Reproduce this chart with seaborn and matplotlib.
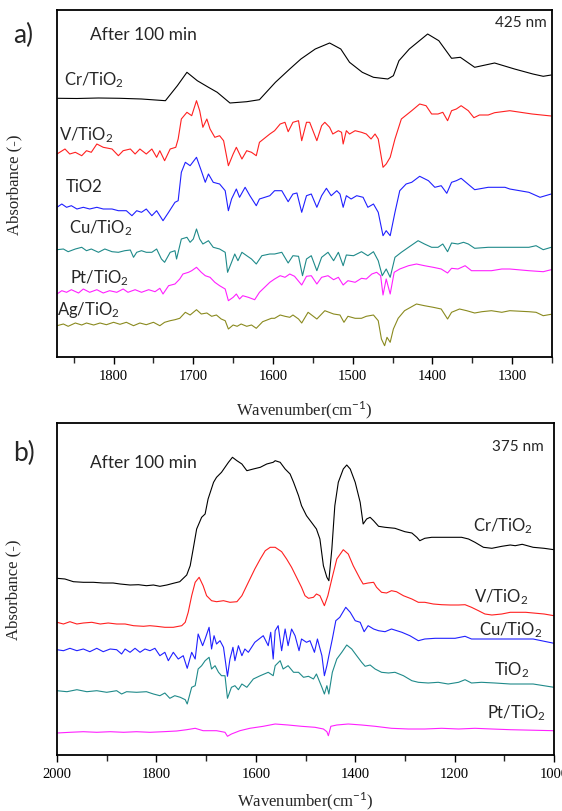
import matplotlib
matplotlib.use("Agg")
import matplotlib.pyplot as plt
import seaborn as sns
import pandas as pd
from matplotlib.ticker import MultipleLocator

# ---- panel a) 425 nm : (wavenumber, absorbance a.u.) ----
cr_a = [(1870, 258.7), (1846, 258.5), (1819, 259), (1792, 258.7), (1765, 258), (1735, 256.3), (1720, 271.3),
        (1708, 284.7), (1695, 276.3), (1681, 269.7), (1670, 264.7), (1654, 254), (1633, 255.3), (1617, 257.3),
        (1597, 274.7), (1579, 288), (1565, 298), (1547, 308), (1529, 314), (1515, 308), (1504, 294.7),
        (1488, 284.7), (1474, 279.7), (1456, 278), (1449, 281.3), (1442, 296.3), (1429, 308), (1406, 323),
        (1392, 316.3), (1376, 298.7), (1365, 299.7), (1347, 289.7), (1322, 294), (1297, 288), (1274, 283),
        (1261, 280.7), (1251, 282)]
v_a = [(1871, 203), (1861, 208), (1855, 203), (1848, 204.7), (1840, 201.3), (1834, 206.3), (1828, 204.7),
       (1821, 213), (1813, 209.7), (1802, 208), (1794, 201.3), (1788, 206.3), (1779, 208), (1773, 203),
       (1767, 208), (1759, 203), (1752, 208), (1746, 199.7), (1742, 206.3), (1736, 196.3), (1729, 208),
       (1722, 209.7), (1719, 218), (1715, 238), (1708, 244.7), (1702, 241.3), (1696, 256.3), (1692, 246.3),
       (1688, 229.7), (1683, 238), (1679, 228), (1673, 219.7), (1667, 221.3), (1662, 216.3), (1656, 191.3),
       (1650, 203), (1646, 209.7), (1639, 198), (1633, 206.3), (1627, 204.7), (1621, 201.3), (1617, 214.7),
       (1604, 223), (1598, 226.3), (1591, 233), (1585, 234.7), (1581, 225.3), (1575, 234.7), (1568, 236.3),
       (1564, 216.3), (1558, 234.7), (1554, 234.7), (1545, 216.3), (1539, 231.3), (1535, 234.7), (1529, 229.7),
       (1525, 223), (1518, 226.3), (1514, 224.7), (1512, 213), (1508, 226.3), (1504, 223), (1497, 226.3),
       (1489, 224.7), (1483, 223), (1477, 218), (1472, 223), (1468, 218), (1462, 189.7), (1458, 193),
       (1453, 199.7), (1447, 218), (1439, 238), (1426, 246.3), (1416, 253), (1408, 251.3), (1401, 243),
       (1393, 243), (1387, 244.7), (1381, 236.3), (1376, 246.3), (1370, 248), (1364, 251.3), (1355, 246.3),
       (1348, 239.3), (1341, 242), (1330, 242), (1322, 244.3), (1303, 246.3), (1275, 243), (1251, 241)]
tio2_a = [(1871, 149.7), (1865, 153), (1859, 149.7), (1853, 151.3), (1846, 148), (1838, 149.7), (1830, 148),
          (1821, 149.7), (1813, 148), (1802, 148), (1794, 146.3), (1784, 146.3), (1777, 141.3), (1771, 146.3),
          (1765, 144.7), (1759, 148), (1752, 141.3), (1746, 146.3), (1738, 136.3), (1731, 144.7), (1723, 154.7),
          (1719, 156.3), (1715, 184.7), (1710, 194.7), (1704, 191.3), (1696, 199.7), (1690, 186.3), (1685, 174.7),
          (1681, 183), (1675, 174.7), (1667, 173), (1660, 166.3), (1656, 146.3), (1652, 158), (1646, 168),
          (1642, 159.7), (1635, 169.7), (1629, 161.3), (1621, 151.3), (1617, 158), (1604, 161.3), (1598, 166.3),
          (1589, 166.3), (1581, 155.3), (1575, 163), (1570, 164), (1564, 144.7), (1558, 161.3), (1552, 163),
          (1545, 149.7), (1539, 161.3), (1533, 168.7), (1527, 161.3), (1520, 166.3), (1516, 163), (1512, 149.7),
          (1508, 161.3), (1502, 158), (1495, 161.3), (1487, 159.7), (1481, 149.7), (1474, 153), (1468, 144.7),
          (1462, 121.3), (1458, 126.3), (1453, 121.3), (1447, 144.7), (1441, 166.3), (1433, 173), (1426, 174.7),
          (1416, 180.7), (1405, 176.3), (1397, 169.7), (1389, 171.3), (1382, 163.7), (1376, 174.7), (1370, 176.3),
          (1364, 178.7), (1357, 174), (1347, 167.3), (1330, 169.7), (1309, 169.7), (1303, 168), (1279, 164.7),
          (1265, 159.7), (1251, 163)]
cu_a = [(1871, 107.3), (1863, 108), (1857, 105.3), (1848, 108), (1840, 109.7), (1834, 106.3), (1828, 108),
        (1819, 104.7), (1811, 108), (1802, 105.3), (1794, 104.7), (1786, 106.3), (1779, 107), (1775, 99.7),
        (1771, 104.7), (1765, 106.3), (1759, 104.7), (1752, 104.7), (1746, 108), (1740, 98), (1736, 94.7),
        (1729, 104.7), (1723, 106.3), (1721, 98), (1715, 118), (1708, 119.7), (1704, 114.7), (1700, 118),
        (1696, 128), (1692, 118), (1688, 113), (1681, 116.3), (1675, 109.7), (1667, 108), (1660, 104.7),
        (1657, 84.7), (1652, 94.7), (1648, 103), (1644, 96.3), (1639, 104.7), (1633, 101.3), (1627, 98),
        (1621, 93), (1614, 101.3), (1604, 103), (1598, 103), (1589, 104.7), (1581, 94), (1575, 101.3),
        (1568, 100.7), (1563, 81.3), (1558, 98), (1552, 101.3), (1545, 86.3), (1539, 99.7), (1531, 104.7),
        (1524, 96.3), (1518, 104.7), (1512, 91.3), (1508, 102), (1499, 101.3), (1489, 105.3), (1481, 101.3),
        (1474, 105.3), (1468, 96.3), (1463, 81.3), (1458, 88), (1453, 79.7), (1447, 99.7), (1439, 104.7),
        (1430, 109.7), (1418, 116.3), (1410, 113), (1401, 109.7), (1393, 109.7), (1387, 113), (1381, 105.3),
        (1376, 114), (1368, 113), (1361, 114.7), (1355, 113), (1347, 108.7), (1330, 109.7), (1303, 109.7),
        (1279, 109.7), (1270, 111.3), (1261, 107.3), (1251, 109.7)]
pt_a = [(1871, 63), (1865, 66.3), (1859, 64.7), (1853, 67.3), (1844, 64), (1838, 68), (1830, 64.7), (1821, 67.3),
        (1813, 64), (1805, 66.3), (1796, 64.7), (1788, 68), (1782, 64.7), (1773, 67.3), (1765, 64.7),
        (1756, 67.3), (1748, 65.3), (1742, 68.7), (1738, 63), (1731, 71.3), (1723, 73), (1717, 78), (1713, 83),
        (1706, 84.7), (1702, 86.3), (1696, 89.7), (1690, 84.7), (1685, 81.3), (1679, 79.7), (1673, 74.7),
        (1667, 71.3), (1660, 68), (1656, 56.3), (1650, 59.7), (1646, 63), (1642, 58), (1638, 61.3),
        (1631, 59.7), (1623, 57.3), (1617, 64.7), (1604, 74.7), (1598, 78), (1591, 81.3), (1585, 79.7),
        (1579, 83), (1573, 80.7), (1564, 72), (1558, 80.7), (1552, 81.3), (1545, 73), (1539, 79.7),
        (1531, 81.3), (1524, 77.3), (1518, 79.7), (1512, 72), (1506, 76.3), (1497, 74.7), (1489, 78.7),
        (1483, 78), (1476, 83), (1470, 84.7), (1465, 81.3), (1462, 62), (1458, 78), (1453, 63), (1448, 84.7),
        (1441, 88), (1430, 91.3), (1420, 93), (1410, 91.3), (1399, 89.7), (1389, 88), (1381, 84), (1376, 88.7),
        (1368, 88), (1359, 91.3), (1351, 86.3), (1339, 86.3), (1326, 86.3), (1313, 88), (1303, 88),
        (1279, 86.3), (1261, 85.3), (1251, 87.3)]
ag_a = [(1871, 31.3), (1863, 33), (1857, 30.7), (1848, 34), (1840, 32), (1834, 34), (1825, 32), (1817, 34),
        (1809, 32.3), (1800, 34.7), (1792, 32.7), (1784, 34.7), (1775, 31.3), (1767, 34), (1759, 32.3),
        (1750, 34.7), (1742, 31.3), (1736, 34.7), (1729, 36.3), (1723, 37.3), (1717, 38.7), (1710, 44.7),
        (1704, 42), (1696, 47.3), (1690, 43), (1683, 44), (1677, 40.7), (1671, 42), (1665, 38), (1660, 36.3),
        (1656, 28), (1650, 32), (1645, 30.7), (1640, 33), (1633, 30.7), (1627, 32), (1621, 28.7), (1613, 35.3),
        (1602, 38.7), (1598, 38.7), (1591, 42), (1585, 40.7), (1579, 39.7), (1575, 42), (1568, 38), (1564, 34),
        (1556, 44.7), (1545, 38), (1535, 46.3), (1524, 43), (1516, 42), (1511, 34.7), (1506, 40.7),
        (1497, 38.7), (1489, 38.7), (1483, 40.7), (1474, 42), (1468, 36.3), (1464, 18), (1460, 11.3),
        (1457, 19.7), (1453, 14.7), (1449, 28), (1443, 38.7), (1435, 46.3), (1420, 53), (1410, 51.3),
        (1399, 49.7), (1389, 48), (1381, 38), (1376, 44.7), (1366, 48), (1357, 46.3), (1347, 44), (1338, 45.3),
        (1326, 46.3), (1313, 44.7), (1303, 46.3), (1279, 45.3), (1270, 44.7), (1261, 41.3), (1251, 42.7)]

# ---- panel b) 375 nm ----
cr_b = [(2000, 176.7), (1984, 176), (1967, 173.3), (1947, 172.7), (1927, 172.7), (1907, 172), (1887, 172),
        (1873, 171), (1853, 170), (1836, 170.3), (1820, 169.3), (1806, 170), (1793, 168.7), (1779, 170),
        (1766, 171.7), (1753, 173.3), (1739, 180), (1732, 189.3), (1726, 206), (1719, 226), (1709, 237.7),
        (1702, 241), (1696, 256), (1685, 272.7), (1679, 277.7), (1669, 282.7), (1662, 287.7), (1655, 292.7),
        (1647, 297.7), (1638, 294.3), (1628, 291), (1618, 284.3), (1605, 286), (1591, 287.7), (1578, 291),
        (1565, 292.7), (1561, 294.3), (1551, 292.7), (1541, 286), (1531, 281), (1524, 272.7), (1514, 259.3),
        (1508, 249.3), (1498, 239.3), (1488, 232.7), (1478, 226), (1471, 216), (1464, 189.3), (1457, 177.7),
        (1453, 174.3), (1447, 206), (1441, 249.3), (1434, 272.7), (1424, 286), (1417, 290), (1410, 286),
        (1400, 272.7), (1390, 252.7), (1384, 231), (1377, 236), (1370, 237.7), (1363, 234.3), (1353, 228.7),
        (1340, 227.7), (1320, 226.7), (1300, 223.3), (1286, 222), (1276, 217.7), (1270, 214.3), (1260, 216.7),
        (1246, 217.7), (1226, 217.7), (1206, 217.7), (1186, 217.7), (1172, 216), (1159, 212.7), (1142, 207.7),
        (1125, 206.7), (1105, 208.7), (1088, 210), (1078, 209.3), (1064, 210.7), (1042, 207.7), (1020, 206.7),
        (1000, 205.3)]
v_b = [(2000, 132.7), (1987, 131), (1974, 133.3), (1960, 131), (1947, 132), (1930, 132.7), (1913, 131),
       (1897, 132), (1880, 131), (1863, 131), (1846, 129.3), (1826, 128.7), (1813, 129.3), (1800, 128.7),
       (1783, 127.7), (1766, 127.7), (1749, 129.3), (1742, 132.7), (1736, 142.7), (1729, 159.3), (1722, 172.7),
       (1714, 177.7), (1706, 169.3), (1699, 159.3), (1689, 154.3), (1679, 153.3), (1665, 154.3), (1652, 152.7),
       (1638, 153.3), (1628, 159.3), (1615, 172.7), (1602, 186), (1591, 196), (1581, 204.3), (1571, 207.7),
       (1561, 207.7), (1548, 203.3), (1538, 196), (1528, 187.7), (1518, 177.7), (1508, 167.7), (1501, 159.3),
       (1494, 156.7), (1484, 157.7), (1478, 161), (1471, 159.3), (1462, 149.3), (1455, 159.3), (1447, 176),
       (1437, 196), (1424, 205.3), (1414, 201), (1404, 189.3), (1390, 176), (1384, 171), (1374, 172),
       (1363, 172.7), (1357, 167.7), (1347, 162.7), (1337, 162), (1327, 164.3), (1317, 163.3), (1303, 159.3),
       (1286, 156), (1273, 152.7), (1260, 152.7), (1243, 151), (1226, 150.3), (1209, 150), (1192, 150),
       (1179, 150.3), (1166, 147.7), (1152, 144.3), (1139, 141), (1125, 140), (1105, 141), (1088, 142.7),
       (1057, 142.7), (1020, 141), (1000, 139.3)]
cu_b = [(2000, 105.3), (1987, 104.3), (1974, 106.7), (1960, 104.3), (1947, 106), (1934, 103.3), (1920, 106.7),
        (1907, 103.3), (1893, 106), (1880, 105.3), (1870, 101), (1863, 106), (1853, 102.7), (1843, 106.7),
        (1833, 102.7), (1823, 106), (1813, 104.3), (1803, 106.7), (1793, 99.3), (1783, 102.7), (1776, 94.3),
        (1766, 102.7), (1756, 96), (1746, 99.3), (1738, 86.7), (1729, 102.7), (1722, 96), (1716, 121),
        (1707, 109.3), (1702, 116), (1694, 127.7), (1689, 106), (1684, 119.3), (1679, 111), (1672, 114.3),
        (1665, 107.7), (1657, 78.7), (1652, 96), (1646, 107.7), (1642, 94.3), (1635, 109.3), (1628, 99.3),
        (1622, 106), (1615, 102.7), (1602, 112.7), (1585, 119.3), (1575, 109.3), (1570, 122.7), (1565, 96),
        (1561, 124.3), (1555, 129.3), (1548, 104.3), (1541, 126), (1535, 109.3), (1528, 126), (1521, 119.3),
        (1513, 104.3), (1508, 116), (1498, 112.7), (1491, 114.3), (1482, 102.7), (1476, 116), (1467, 99.3),
        (1462, 79.3), (1457, 89.3), (1453, 99.3), (1446, 116), (1439, 134.3), (1431, 137.7), (1419, 147.7),
        (1410, 142.7), (1400, 134.3), (1390, 132.7), (1382, 123.3), (1374, 129.3), (1363, 126), (1353, 124.3),
        (1340, 123.3), (1327, 126), (1306, 122.7), (1290, 119.3), (1273, 114.3), (1260, 116), (1239, 116.7),
        (1219, 116.7), (1199, 116.7), (1179, 118.7), (1166, 116), (1146, 116), (1119, 116), (1088, 116),
        (1042, 116), (1000, 111.7)]
tio2_b = [(2000, 64.3), (1980, 63.3), (1960, 65.3), (1940, 63.3), (1920, 64.3), (1900, 62.7), (1880, 64.3),
          (1870, 61), (1860, 63.3), (1840, 62.7), (1820, 63.3), (1806, 61), (1793, 59.3), (1783, 62),
          (1773, 56.7), (1763, 59.3), (1752, 57.7), (1742, 55.3), (1738, 51), (1729, 67.7), (1722, 69.3),
          (1716, 86), (1709, 89.3), (1702, 94.3), (1694, 97.7), (1689, 86), (1682, 89.3), (1675, 82.7),
          (1669, 79.3), (1662, 79.3), (1657, 56.7), (1649, 67.7), (1642, 69.3), (1635, 65.3), (1628, 71),
          (1618, 67.7), (1605, 76), (1591, 79.3), (1575, 82.7), (1565, 79.3), (1561, 89.3), (1551, 94.3),
          (1545, 86), (1535, 89.3), (1524, 82.7), (1514, 82.7), (1504, 77.7), (1494, 78.7), (1484, 76),
          (1478, 81), (1467, 67.7), (1462, 61), (1457, 69.3), (1453, 61), (1446, 82.7), (1437, 96),
          (1427, 102.7), (1417, 110), (1407, 106), (1397, 99.3), (1387, 92.7), (1380, 88.7), (1370, 90),
          (1360, 86), (1347, 82.7), (1333, 82), (1320, 82.7), (1303, 79.3), (1286, 74.3), (1273, 72.7),
          (1253, 72), (1233, 72.7), (1213, 71), (1192, 72.7), (1179, 75.3), (1166, 72), (1146, 72.7),
          (1119, 72), (1088, 71), (1042, 71), (1000, 67.7)]
pt_b = [(2000, 22), (1974, 22.7), (1947, 23.3), (1920, 22.7), (1893, 23.3), (1866, 22.7), (1840, 23.3),
        (1813, 22.7), (1786, 23.3), (1759, 24), (1739, 25.3), (1722, 26.7), (1706, 24.3), (1679, 24.3),
        (1662, 22.7), (1657, 18.7), (1649, 21), (1632, 24.3), (1612, 26.7), (1585, 28.7), (1561, 31),
        (1535, 30), (1508, 28.7), (1481, 27.7), (1464, 26), (1457, 23.3), (1454, 19.3), (1449, 28.7),
        (1437, 30), (1414, 31), (1387, 30), (1360, 28.7), (1327, 26.7), (1293, 26), (1260, 26), (1226, 26.7),
        (1192, 26), (1159, 26.7), (1125, 26), (1088, 25.3), (1000, 24.3)]

black, red, blue, teal, magenta, olive = "black", "#ff2020", "#2020ff", "#1f8a8a", "#ff20ff", "#8a8a1f"

# the curve colours follow stacking order, not sample name
panel_a = [(cr_a, black), (v_a, red), (tio2_a, blue), (cu_a, teal), (pt_a, magenta), (ag_a, olive)]
panel_b = [(cr_b, black), (v_b, red), (cu_b, blue), (tio2_b, teal), (pt_b, magenta)]

sns.set_style("ticks")
plt.rcParams['font.family'] = ['Lato', 'DejaVu Sans']
plt.rcParams['mathtext.fontset'] = 'custom'
plt.rcParams['mathtext.rm'] = 'Lato'
plt.rcParams['mathtext.default'] = 'rm'
serif = ['Liberation Serif', 'DejaVu Serif']

W, H = 562, 812
fig = plt.figure(figsize=(W / 100, H / 100), dpi=100)
ax1 = fig.add_axes([57 / W, 1 - 358 / H, 495 / W, 347 / H])
ax2 = fig.add_axes([57 / W, 1 - 756 / H, 497 / W, 332 / H])


def draw(ax, curves):
    for pts, c in curves:
        df = pd.DataFrame(pts, columns=["wn", "abs"])
        sns.lineplot(data=df, x="wn", y="abs", ax=ax, color=c, lw=0.8,
                     sort=False, estimator=None)


draw(ax1, panel_a)
draw(ax2, panel_b)

ax1.set_xlim(1871, 1250)
ax1.set_ylim(0, 347)
ax1.set_xticks([1800, 1700, 1600, 1500, 1400, 1300])
ax1.xaxis.set_minor_locator(MultipleLocator(50))
ax2.set_xlim(2000, 1000)
ax2.set_ylim(0, 332)
ax2.set_xticks([2000, 1800, 1600, 1400, 1200, 1000])
ax2.xaxis.set_minor_locator(MultipleLocator(100))

for ax in [ax1, ax2]:
    ax.set_yticks([])
    for s in ax.spines.values():
        s.set_visible(True)
        s.set_linewidth(1.3)
        s.set_color("black")
    ax.tick_params(axis="x", which="major", direction="out", length=5, width=1,
                   labelsize=10.5, labelfontfamily=serif, colors="black")
    ax.tick_params(axis="x", which="minor", direction="out", length=4, width=1)
    ax.set_xlabel("Wavenumber(cm$^{-1}$)", fontsize=12, family=serif)
    ax.set_ylabel("Absorbance (-)", fontsize=12, family=serif)
    ax.yaxis.set_label_coords(-35 / 495, 0.5)
ax1.xaxis.set_label_coords(0.5, -40 / 347)
ax2.xaxis.set_label_coords(0.5, -33 / 332)


def label(x, y, s, size=12, ha="left"):
    fig.text(x / W, 1 - y / H, s, fontsize=size, ha=ha, va="baseline")


label(13, 43, "a)", size=19)
label(90, 40, "After 100 min", size=12.5)
label(547, 27, "425 nm", size=11, ha="right")
label(64, 85, "Cr/TiO$_2$")
label(59, 140, "V/TiO$_2$")
label(66, 192, "TiO2")
label(69, 233, "Cu/TiO$_2$")
label(70, 283, "Pt/TiO$_2$")
label(57, 315, "Ag/TiO$_2$")

label(13, 461, "b)", size=19)
label(90, 468, "After 100 min", size=12.5)
label(544, 451, "375 nm", size=11, ha="right")
label(533, 531, "Cr/TiO$_2$", ha="right")
label(528, 602, "V/TiO$_2$", ha="right")
label(542, 635, "Cu/TiO$_2$", ha="right")
label(529, 675, "TiO$_2$", ha="right")
label(546, 718, "Pt/TiO$_2$", ha="right")

fig.savefig("out.png", dpi=100)
